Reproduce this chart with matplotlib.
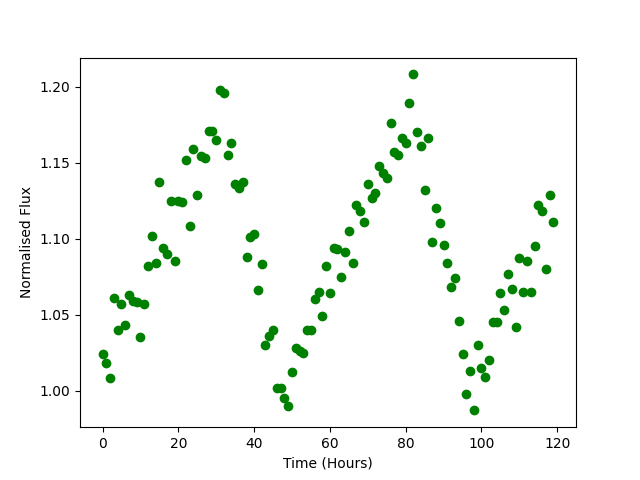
import matplotlib
matplotlib.use("Agg")
import matplotlib.pyplot as plt
import numpy as np

# hourly samples
hours = np.arange(120)
flux = [
    1.024, 1.018, 1.008, 1.061, 1.040, 1.057, 1.043, 1.063, 1.059, 1.058,
    1.035, 1.057, 1.082, 1.102, 1.084, 1.137, 1.094, 1.090, 1.125, 1.085,
    1.125, 1.124, 1.152, 1.108, 1.159, 1.129, 1.154, 1.153, 1.171, 1.171,
    1.165, 1.198, 1.196, 1.155, 1.163, 1.136, 1.133, 1.137, 1.088, 1.101,
    1.103, 1.066, 1.083, 1.030, 1.036, 1.040, 1.002, 1.002, 0.995, 0.990,
    1.012, 1.028, 1.026, 1.025, 1.040, 1.040, 1.060, 1.065, 1.049, 1.082,
    1.064, 1.094, 1.093, 1.075, 1.091, 1.105, 1.084, 1.122, 1.118, 1.111,
    1.136, 1.127, 1.130, 1.148, 1.143, 1.140, 1.176, 1.157, 1.155, 1.166,
    1.163, 1.189, 1.208, 1.170, 1.161, 1.132, 1.166, 1.098, 1.120, 1.110,
    1.096, 1.084, 1.068, 1.074, 1.046, 1.024, 0.998, 1.013, 0.987, 1.030,
    1.015, 1.009, 1.020, 1.045, 1.045, 1.064, 1.053, 1.077, 1.067, 1.042,
    1.087, 1.065, 1.085, 1.065, 1.095, 1.122, 1.118, 1.080, 1.129, 1.111,
]

fig, ax = plt.subplots(figsize=(6.4, 4.8), dpi=100)
ax.plot(hours, flux, "go")
ax.set_xlabel("Time (Hours)")
ax.set_ylabel("Normalised Flux")
fig.savefig("out.png")
